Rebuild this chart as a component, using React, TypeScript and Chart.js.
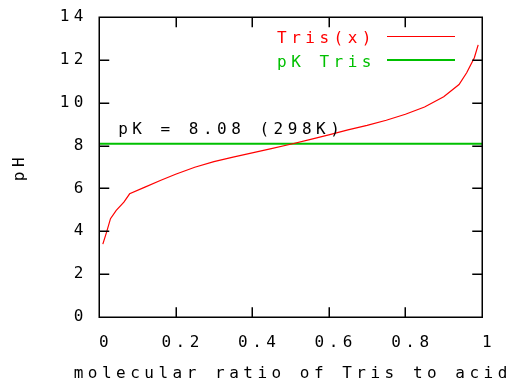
import React, { useEffect, useRef } from "react";
import { Chart, registerables } from "chart.js";

Chart.register(...registerables);

// molecular ratio of Tris to acid (x) and resulting pH (y)
const ratios = [0.01, 0.02, 0.03, 0.045, 0.065, 0.08, 0.12, 0.16, 0.2, 0.25, 0.3, 0.35, 0.4, 0.45, 0.5, 0.55, 0.6, 0.65, 0.7, 0.75, 0.8, 0.85, 0.9, 0.94, 0.96, 0.98, 0.99];
const phValues = [3.4, 3.97, 4.59, 4.98, 5.36, 5.75, 6.06, 6.37, 6.66, 6.99, 7.25, 7.46, 7.66, 7.86, 8.06, 8.28, 8.5, 8.73, 8.94, 9.18, 9.46, 9.8, 10.28, 10.85, 11.4, 12.1, 12.7];
const pkValue = 8.08;
const pkRange = [0, 1];
const seriesLabels = ["Tris(x)", "pK Tris"];
const pkLabel = "pK = 8.08 (298K)";
const xTitle = "molecular ratio of Tris to acid";
const yTitle = "pH";

const FAMILY = "'DejaVu Sans Mono', monospace";
const FONT_SIZE = 16;
const SP = 4.5;
const SPACING = `${SP}px`;
const RED = "#ff0000";
const GREEN = "#00c000";

const framePlugin = {
  id: "gnuplotFrame",
  beforeDraw(chart: any) {
    chart.ctx.letterSpacing = SPACING;
  },
  afterDraw(chart: any) {
    const ctx = chart.ctx as CanvasRenderingContext2D;
    const { left, right, top, bottom } = chart.chartArea;
    const xs = chart.scales.x;
    const ys = chart.scales.y;
    ctx.save();
    ctx.strokeStyle = "#000";
    ctx.lineWidth = 1.5;
    const L = Math.round(left) + 0.25;
    const R = Math.round(right) + 0.25;
    const T = Math.round(top) + 0.25;
    const B = Math.round(bottom) + 0.25;
    ctx.beginPath();
    ctx.rect(L, T, R - L, B - T);
    // inward ticks
    const tl = 10;
    xs.ticks.forEach((t: any) => {
      const px = Math.round(xs.getPixelForValue(t.value)) + 0.25;
      ctx.moveTo(px, B);
      ctx.lineTo(px, B - tl);
      ctx.moveTo(px, T);
      ctx.lineTo(px, T + tl);
    });
    ys.ticks.forEach((t: any) => {
      const py = Math.round(ys.getPixelForValue(t.value)) + 0.25;
      ctx.moveTo(L, py);
      ctx.lineTo(L + tl, py);
      ctx.moveTo(R, py);
      ctx.lineTo(R - tl, py);
    });
    ctx.stroke();

    ctx.font = `${FONT_SIZE}px ${FAMILY}`;
    (ctx as any).letterSpacing = SPACING;
    ctx.textBaseline = "alphabetic";

    // legend
    ctx.textAlign = "right";
    const colors = [RED, GREEN];
    const rowsY = [43, 66.5];
    const lineYs = [36.5, 60];
    seriesLabels.forEach((lab, i) => {
      ctx.fillStyle = colors[i];
      ctx.fillText(lab, right - 106, rowsY[i]);
      ctx.strokeStyle = colors[i];
      ctx.lineWidth = i === 0 ? 1 : 2;
      ctx.beginPath();
      ctx.moveTo(right - 95, lineYs[i]);
      ctx.lineTo(right - 27, lineYs[i]);
      ctx.stroke();
    });

    // pK label
    ctx.fillStyle = "#000";
    ctx.textAlign = "left";
    ctx.fillText(pkLabel, xs.getPixelForValue(0.05), ys.getPixelForValue(pkValue) - 10);

    // x axis title (drawn here so it is not squeezed to the axis width)
    const w = ctx.measureText(xTitle).width - SP;
    ctx.fillText(xTitle, (left + right) / 2 - w / 2, 378);
    ctx.restore();
  },
};

const fmt = (v: any) => `${+Number(v).toFixed(2)}`;

export default function App() {
  const ref = useRef<HTMLCanvasElement>(null);
  useEffect(() => {
    document.body.style.margin = "0";
    const font = { family: FAMILY, size: FONT_SIZE };
    const chart = new Chart(ref.current!, {
      type: "scatter",
      data: {
        datasets: [
          {
            label: seriesLabels[0],
            data: ratios.map((x, i) => ({ x, y: phValues[i] })),
            showLine: true,
            borderColor: RED,
            backgroundColor: RED,
            borderWidth: 1.2,
            pointRadius: 0,
          },
          {
            label: seriesLabels[1],
            data: pkRange.map((x) => ({ x, y: pkValue })),
            showLine: true,
            borderColor: GREEN,
            backgroundColor: GREEN,
            borderWidth: 2,
            pointRadius: 0,
          },
        ],
      },
      options: {
        animation: false,
        responsive: false,
        layout: { padding: { left: 0, top: 17, right: 27, bottom: 0 } },
        plugins: { legend: { display: false }, tooltip: { enabled: false } },
        scales: {
          x: {
            type: "linear",
            min: 0,
            max: 1,
            grid: { display: false },
            border: { display: false },
            ticks: { stepSize: 0.2, font, color: "#000", padding: 8, labelOffset: 7, maxRotation: 0, autoSkip: false, callback: fmt },
            title: { display: false },
            afterFit: (s: any) => {
              s.height = 63;
              s.paddingLeft = 0;
              s.paddingRight = 0;
            },
          },
          y: {
            type: "linear",
            min: 0,
            max: 14,
            grid: { display: false },
            border: { display: false },
            ticks: { stepSize: 2, font, color: "#000", padding: 3, autoSkip: false, callback: fmt },
            title: { display: true, text: yTitle, font, color: "#000", padding: { top: 10, bottom: 0 } },
            afterFit: (s: any) => {
              s.width = 99;
              s.paddingTop = 0;
              s.paddingBottom = 0;
            },
          },
        },
      },
      plugins: [framePlugin],
    } as any);
    return () => chart.destroy();
  }, []);
  return (
    <div style={{ position: "absolute", left: 0, top: 0, width: 509, height: 380, background: "#fff" }}>
      <canvas ref={ref} width={509} height={380} />
    </div>
  );
}
